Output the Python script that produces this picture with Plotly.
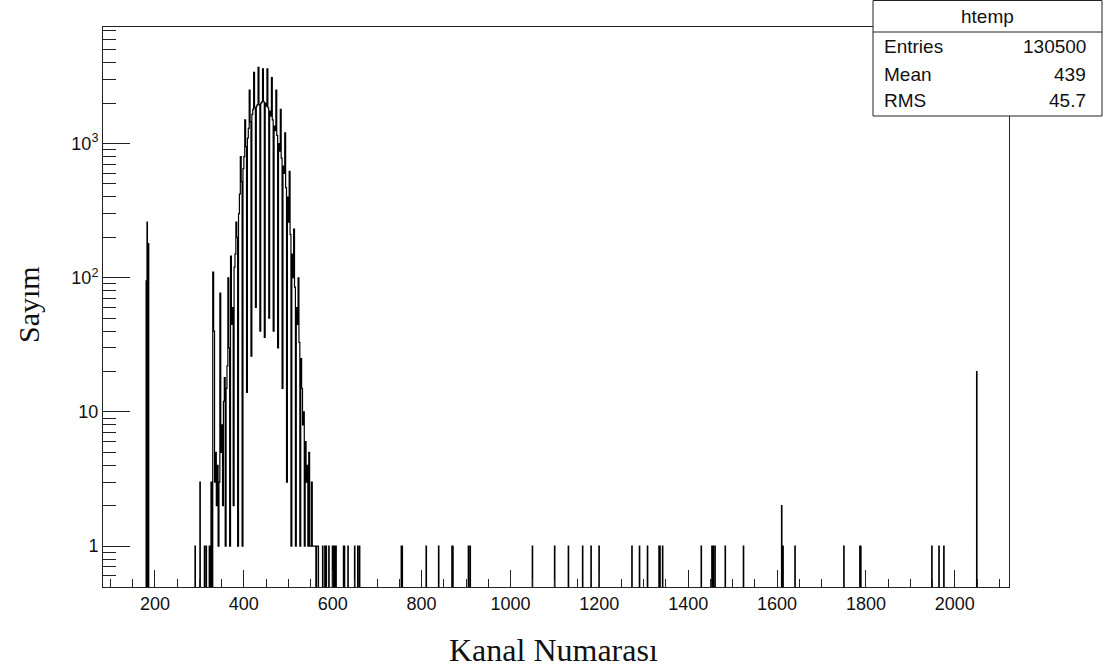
import numpy as np
import plotly.graph_objects as go

# ---------------- data ----------------
# histogram channel range shown on the x axis
x_min, x_max = 83, 2122

# isolated channels outside the main peak (channel, count)
sparse_channels = [180, 182, 185, 290, 301, 311, 315,
                   577, 582, 585, 591, 599, 602, 605, 607, 624, 626, 634, 649, 656, 660,
                   754, 756, 810, 838, 868, 870, 905, 909, 1049, 1099, 1130, 1162, 1181,
                   1199, 1273, 1290, 1308, 1334, 1336, 1342, 1429, 1453, 1456, 1460, 1483,
                   1524, 1610, 1613, 1640, 1750, 1786, 1788, 1948, 1964, 1975, 2049]
sparse_counts = [95, 260, 180, 1, 3, 1, 1,
                 1, 1, 1, 1, 1, 1, 1, 1, 1, 1, 1, 1, 1, 1,
                 1, 1, 1, 1, 1, 1, 1, 1, 1, 1, 1, 1, 1,
                 1, 1, 1, 1, 1, 1, 1, 1, 1, 1, 1, 1,
                 1, 2, 1, 1, 1, 1, 1, 1, 1, 1, 20]

# main peak, 2-channel bins starting at channel 320
peak_start = 320
peak_counts = [
    0, 1, 0, 3, 0,
    110, 40, 3, 5, 2,
    4, 1, 3, 77, 5,
    8, 2, 12, 18, 1,
    15, 22, 100, 30, 1,
    145, 45, 60, 2, 120,
    150, 260, 200, 1, 300,
    420, 800, 520, 1, 650,
    800, 1500, 950, 14, 1100,
    1300, 2500, 1450, 26, 1650,
    1800, 3400, 1850, 60, 1900,
    1950, 3700, 1950, 40, 2000,
    2050, 3600, 2050, 36, 2000,
    1900, 3600, 1850, 50, 1750,
    1600, 3100, 1500, 40, 1350,
    1250, 2500, 1150, 30, 1000,
    880, 1800, 780, 15, 680,
    600, 1200, 470, 3, 400,
    260, 620, 210, 1, 150,
    100, 230, 85, 1, 60,
    45, 100, 33, 1, 25,
    15, 8, 10, 1, 6,
    3, 4, 1, 5, 1,
    1, 3, 1, 1, 1,
    1, 0, 1, 1, 0,
]

x_tick_step = 200
y_tick_vals = [1, 10, 100, 1000]
y_tick_text = ["1", "10", "10<sup>2</sup>", "10<sup>3</sup>"]

stats_title = "htemp"
stats_names = ["Entries", "Mean", "RMS"]
stats_values = ["130500", "439", "45.7"]

x_title = "Kanal Numarası"
y_title = "Sayım"

# ---------------- build per-channel histogram ----------------
counts = np.zeros(x_max - x_min)
for ch, n in zip(sparse_channels, sparse_counts):
    counts[ch - x_min] += n
for i, n in enumerate(peak_counts):
    for k in range(2):
        counts[peak_start + 2 * i + k - x_min] = n

edges = np.arange(x_min, x_max + 1)
floor = 1e-3  # empty bins drop below the visible axis range
yv = np.where(counts > 0, counts, floor)
yv = np.append(yv, floor)

fig = go.Figure()
fig.add_trace(go.Scatter(
    x=edges, y=yv, mode="lines",
    line=dict(color="black", width=1.2, shape="hv"),
    hoverinfo="skip", showlegend=False,
))

# ---------------- layout ----------------
W, H = 1105, 669
L, R, T, B = 103, 96, 27, 82
pw, ph = W - L - R, H - T - B

def px(x):
    return (x - L) / pw

def py(y):
    return (H - B - y) / ph

axis_col = "#222222"
tick_font = dict(family="Liberation Sans, Arial, sans-serif", size=18, color="#111111")

minor_y = [m * 10 ** k for k in range(-1, 4) for m in range(2, 10)]

fig.update_layout(
    width=W, height=H,
    margin=dict(l=L, r=R, t=T, b=B),
    plot_bgcolor="white", paper_bgcolor="white",
    showlegend=False,
    xaxis=dict(
        range=[x_min, x_max], showgrid=False, zeroline=False,
        showline=True, linecolor=axis_col, linewidth=1, mirror=True,
        ticks="inside", ticklen=17, tickwidth=1, tickcolor=axis_col,
        tick0=0, dtick=x_tick_step, tickfont=tick_font,
        minor=dict(ticks="inside", ticklen=8, tickwidth=1, tickcolor=axis_col,
                   tick0=0, dtick=50, showgrid=False),
    ),
    yaxis=dict(
        type="log", range=[-0.305, 3.869], showgrid=False, zeroline=False,
        showline=True, linecolor=axis_col, linewidth=1, mirror=True,
        ticks="inside", ticklen=27, tickwidth=1, tickcolor=axis_col,
        tickmode="array", tickvals=y_tick_vals, ticktext=y_tick_text,
        tickfont=tick_font,
        minor=dict(ticks="inside", ticklen=13, tickwidth=1, tickcolor=axis_col,
                   tickmode="array", tickvals=minor_y, showgrid=False),
    ),
)

# stats box
bx0, bx1, by0, by1, bdiv = 873, 1102, 0.5, 116, 32
fig.add_shape(type="rect", xref="paper", yref="paper",
              x0=px(bx0), x1=px(bx1), y0=py(by1), y1=py(by0),
              line=dict(color=axis_col, width=1), fillcolor="white", layer="above")
fig.add_shape(type="line", xref="paper", yref="paper",
              x0=px(bx0), x1=px(bx1), y0=py(bdiv), y1=py(bdiv),
              line=dict(color=axis_col, width=1), layer="above")

stat_font = dict(family="Liberation Sans, Arial, sans-serif", size=19, color="#111111")
fig.add_annotation(xref="paper", yref="paper", x=px(987), y=py(16), text=stats_title,
                   showarrow=False, xanchor="center", yanchor="middle", font=stat_font)
for i, (nm, val) in enumerate(zip(stats_names, stats_values)):
    yy = py(47 + i * 27)
    fig.add_annotation(xref="paper", yref="paper", x=px(882), y=yy, text=nm,
                       showarrow=False, xanchor="left", yanchor="middle", font=stat_font)
    fig.add_annotation(xref="paper", yref="paper", x=px(1088), y=yy, text=val,
                       showarrow=False, xanchor="right", yanchor="middle", font=stat_font)

# axis titles
fig.add_annotation(xref="paper", yref="paper", x=px(553), y=py(650), text=x_title,
                   showarrow=False, xanchor="center", yanchor="middle",
                   font=dict(family="Liberation Serif, Times New Roman, serif", size=32,
                             color="#111111"))
fig.add_annotation(xref="paper", yref="paper", x=px(28), y=py(305), text=y_title,
                   showarrow=False, xanchor="center", yanchor="middle", textangle=-90,
                   font=dict(family="Liberation Serif, Times New Roman, serif", size=30,
                             color="#111111"))

fig.write_html("out.html", config={"displayModeBar": False},
               post_script="document.body.style.margin='0px';")
